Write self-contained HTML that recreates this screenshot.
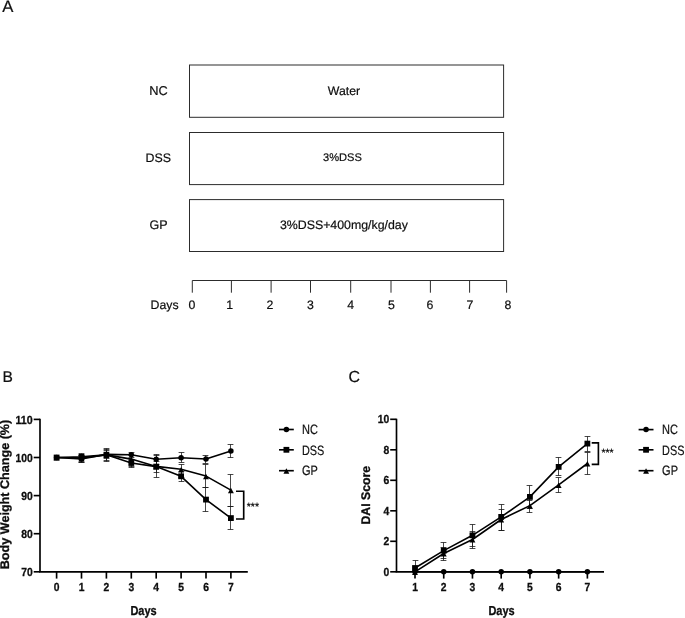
<!DOCTYPE html>
<html lang="en"><head><meta charset="utf-8"><title>Figure</title>
<style>
html,body{margin:0;padding:0;background:#fff;}
body{width:685px;height:618px;overflow:hidden;font-family:'Liberation Sans', sans-serif;}
svg{display:block;font-family:'Liberation Sans', sans-serif;}
</style></head><body>
<svg width="685" height="618" viewBox="0 0 685 618" text-rendering="geometricPrecision">
<rect width="685" height="618" fill="#fff"/>
<text x="2.2" y="12.0" font-size="16.7" font-weight="normal" text-anchor="start" fill="#111" stroke="#111" stroke-width="0.2" >A</text>
<rect x="189.5" y="65.0" width="314.1" height="52.3" fill="none" stroke="#2c2c2c" stroke-width="1"/>
<text x="158.4" y="95.0" font-size="12.8" font-weight="normal" text-anchor="middle" fill="#0d0d0d" stroke="#0d0d0d" stroke-width="0.2" >NC</text>
<text x="344.0" y="95.0" font-size="12.3" font-weight="normal" text-anchor="middle" fill="#0d0d0d" stroke="#0d0d0d" stroke-width="0.2" >Water</text>
<rect x="189.5" y="132.5" width="314.1" height="52.099999999999994" fill="none" stroke="#2c2c2c" stroke-width="1"/>
<text x="158.3" y="161.9" font-size="12.35" font-weight="normal" text-anchor="middle" fill="#0d0d0d" stroke="#0d0d0d" stroke-width="0.2" >DSS</text>
<text x="342.5" y="160.9" font-size="11.1" font-weight="normal" text-anchor="middle" fill="#0d0d0d" stroke="#0d0d0d" stroke-width="0.2" >3%DSS</text>
<rect x="189.5" y="199.6" width="314.1" height="51.900000000000006" fill="none" stroke="#2c2c2c" stroke-width="1"/>
<text x="158.5" y="228.9" font-size="12.5" font-weight="normal" text-anchor="middle" fill="#0d0d0d" stroke="#0d0d0d" stroke-width="0.2" >GP</text>
<text x="343.9" y="228.6" font-size="12.35" font-weight="normal" text-anchor="middle" fill="#0d0d0d" stroke="#0d0d0d" stroke-width="0.2" >3%DSS+400mg/kg/day</text>
<path d="M192.3 280.5H506.6" stroke="#2c2c2c" stroke-width="1" fill="none"/>
<path d="M192.3 280.5V292.7" stroke="#2c2c2c" stroke-width="1" fill="none"/>
<text x="192.0" y="309.1" font-size="12.3" font-weight="normal" text-anchor="middle" fill="#0d0d0d" stroke="#0d0d0d" stroke-width="0.2" >0</text>
<path d="M231.4 280.5V292.7" stroke="#2c2c2c" stroke-width="1" fill="none"/>
<text x="229.65" y="309.1" font-size="12.3" font-weight="normal" text-anchor="middle" fill="#0d0d0d" stroke="#0d0d0d" stroke-width="0.2" >1</text>
<path d="M271.1 280.5V292.7" stroke="#2c2c2c" stroke-width="1" fill="none"/>
<text x="269.9" y="309.1" font-size="12.3" font-weight="normal" text-anchor="middle" fill="#0d0d0d" stroke="#0d0d0d" stroke-width="0.2" >2</text>
<path d="M310.5 280.5V292.7" stroke="#2c2c2c" stroke-width="1" fill="none"/>
<text x="310.5" y="309.1" font-size="12.3" font-weight="normal" text-anchor="middle" fill="#0d0d0d" stroke="#0d0d0d" stroke-width="0.2" >3</text>
<path d="M350.7 280.5V292.7" stroke="#2c2c2c" stroke-width="1" fill="none"/>
<text x="350.55" y="309.1" font-size="12.3" font-weight="normal" text-anchor="middle" fill="#0d0d0d" stroke="#0d0d0d" stroke-width="0.2" >4</text>
<path d="M391.0 280.5V292.7" stroke="#2c2c2c" stroke-width="1" fill="none"/>
<text x="391.4" y="309.1" font-size="12.3" font-weight="normal" text-anchor="middle" fill="#0d0d0d" stroke="#0d0d0d" stroke-width="0.2" >5</text>
<path d="M430.4 280.5V292.7" stroke="#2c2c2c" stroke-width="1" fill="none"/>
<text x="429.95" y="309.1" font-size="12.3" font-weight="normal" text-anchor="middle" fill="#0d0d0d" stroke="#0d0d0d" stroke-width="0.2" >6</text>
<path d="M469.6 280.5V292.7" stroke="#2c2c2c" stroke-width="1" fill="none"/>
<text x="469.9" y="309.1" font-size="12.3" font-weight="normal" text-anchor="middle" fill="#0d0d0d" stroke="#0d0d0d" stroke-width="0.2" >7</text>
<path d="M506.6 280.5V292.7" stroke="#2c2c2c" stroke-width="1" fill="none"/>
<text x="507.8" y="309.1" font-size="12.3" font-weight="normal" text-anchor="middle" fill="#0d0d0d" stroke="#0d0d0d" stroke-width="0.2" >8</text>
<text x="150.6" y="309.1" font-size="12.3" font-weight="normal" text-anchor="start" fill="#0d0d0d" stroke="#0d0d0d" stroke-width="0.2" >Days</text>
<text x="2.5" y="382.2" font-size="15.6" font-weight="normal" text-anchor="start" fill="#111" stroke="#111" stroke-width="0.2" >B</text>
<path d="M40.0 418.7V571.8H247.8" stroke="#000" stroke-width="1.65" fill="none"/>
<path d="M33.7 419.40H40.0" stroke="#000" stroke-width="1.65"/>
<text x="32.7" y="423.5" font-size="11.7" font-weight="bold" text-anchor="end" fill="#0d0d0d" stroke="#0d0d0d" stroke-width="0.3" textLength="17.2" lengthAdjust="spacingAndGlyphs" >110</text>
<path d="M33.7 457.50H40.0" stroke="#000" stroke-width="1.65"/>
<text x="32.7" y="461.6" font-size="11.7" font-weight="bold" text-anchor="end" fill="#0d0d0d" stroke="#0d0d0d" stroke-width="0.3" textLength="17.2" lengthAdjust="spacingAndGlyphs" >100</text>
<path d="M33.7 495.60H40.0" stroke="#000" stroke-width="1.65"/>
<text x="32.7" y="499.70000000000005" font-size="11.7" font-weight="bold" text-anchor="end" fill="#0d0d0d" stroke="#0d0d0d" stroke-width="0.3" textLength="11.5" lengthAdjust="spacingAndGlyphs" >90</text>
<path d="M33.7 533.70H40.0" stroke="#000" stroke-width="1.65"/>
<text x="32.7" y="537.8000000000001" font-size="11.7" font-weight="bold" text-anchor="end" fill="#0d0d0d" stroke="#0d0d0d" stroke-width="0.3" textLength="11.5" lengthAdjust="spacingAndGlyphs" >80</text>
<path d="M33.7 571.80H40.0" stroke="#000" stroke-width="1.65"/>
<text x="32.7" y="575.9" font-size="11.7" font-weight="bold" text-anchor="end" fill="#0d0d0d" stroke="#0d0d0d" stroke-width="0.3" textLength="11.5" lengthAdjust="spacingAndGlyphs" >70</text>
<path d="M56.60 571.8V578.6" stroke="#000" stroke-width="1.65"/>
<text x="56.6" y="590.7" font-size="11.7" font-weight="bold" text-anchor="middle" fill="#0d0d0d" stroke="#0d0d0d" stroke-width="0.3" textLength="5.75" lengthAdjust="spacingAndGlyphs" >0</text>
<path d="M81.50 571.8V578.6" stroke="#000" stroke-width="1.65"/>
<text x="81.5" y="590.7" font-size="11.7" font-weight="bold" text-anchor="middle" fill="#0d0d0d" stroke="#0d0d0d" stroke-width="0.3" textLength="5.75" lengthAdjust="spacingAndGlyphs" >1</text>
<path d="M106.40 571.8V578.6" stroke="#000" stroke-width="1.65"/>
<text x="106.4" y="590.7" font-size="11.7" font-weight="bold" text-anchor="middle" fill="#0d0d0d" stroke="#0d0d0d" stroke-width="0.3" textLength="5.75" lengthAdjust="spacingAndGlyphs" >2</text>
<path d="M131.30 571.8V578.6" stroke="#000" stroke-width="1.65"/>
<text x="131.29999999999998" y="590.7" font-size="11.7" font-weight="bold" text-anchor="middle" fill="#0d0d0d" stroke="#0d0d0d" stroke-width="0.3" textLength="5.75" lengthAdjust="spacingAndGlyphs" >3</text>
<path d="M156.20 571.8V578.6" stroke="#000" stroke-width="1.65"/>
<text x="156.2" y="590.7" font-size="11.7" font-weight="bold" text-anchor="middle" fill="#0d0d0d" stroke="#0d0d0d" stroke-width="0.3" textLength="5.75" lengthAdjust="spacingAndGlyphs" >4</text>
<path d="M181.10 571.8V578.6" stroke="#000" stroke-width="1.65"/>
<text x="181.1" y="590.7" font-size="11.7" font-weight="bold" text-anchor="middle" fill="#0d0d0d" stroke="#0d0d0d" stroke-width="0.3" textLength="5.75" lengthAdjust="spacingAndGlyphs" >5</text>
<path d="M206.00 571.8V578.6" stroke="#000" stroke-width="1.65"/>
<text x="205.99999999999997" y="590.7" font-size="11.7" font-weight="bold" text-anchor="middle" fill="#0d0d0d" stroke="#0d0d0d" stroke-width="0.3" textLength="5.75" lengthAdjust="spacingAndGlyphs" >6</text>
<path d="M230.90 571.8V578.6" stroke="#000" stroke-width="1.65"/>
<text x="230.89999999999998" y="590.7" font-size="11.7" font-weight="bold" text-anchor="middle" fill="#0d0d0d" stroke="#0d0d0d" stroke-width="0.3" textLength="5.75" lengthAdjust="spacingAndGlyphs" >7</text>
<text x="143.5" y="614.5" font-size="13.0" font-weight="bold" text-anchor="middle" fill="#0d0d0d" stroke="#0d0d0d" stroke-width="0.3" textLength="26.2" lengthAdjust="spacingAndGlyphs" >Days</text>
<text x="9.0" y="494.5" font-size="12.5" font-weight="bold" text-anchor="middle" fill="#0d0d0d" stroke="#0d0d0d" stroke-width="0.3" textLength="149.5" lengthAdjust="spacingAndGlyphs" transform="rotate(-90 9.0 494.5)" >Body Weight Change (%)</text>
<path d="M81.5 455.5V462.5M78.60 455.5H84.40M78.60 462.5H84.40" stroke="#141414" stroke-width="0.78" fill="none"/>
<path d="M106.5 449.5V460.5M103.60 449.5H109.40M103.60 460.5H109.40" stroke="#141414" stroke-width="0.78" fill="none"/>
<path d="M131.5 452.5V457.5M128.60 452.5H134.40M128.60 457.5H134.40" stroke="#141414" stroke-width="0.78" fill="none"/>
<path d="M156.5 454.5V464.5M153.60 454.5H159.40M153.60 464.5H159.40" stroke="#141414" stroke-width="0.78" fill="none"/>
<path d="M181.5 452.5V462.5M178.60 452.5H184.40M178.60 462.5H184.40" stroke="#141414" stroke-width="0.78" fill="none"/>
<path d="M205.5 455.5V463.5M202.60 455.5H208.40M202.60 463.5H208.40" stroke="#141414" stroke-width="0.78" fill="none"/>
<path d="M230.5 444.5V457.5M227.60 444.5H233.40M227.60 457.5H233.40" stroke="#141414" stroke-width="0.78" fill="none"/>
<path d="M81.5 453.5V461.5M78.60 453.5H84.40M78.60 461.5H84.40" stroke="#141414" stroke-width="0.78" fill="none"/>
<path d="M106.5 448.5V461.5M103.60 448.5H109.40M103.60 461.5H109.40" stroke="#141414" stroke-width="0.78" fill="none"/>
<path d="M131.5 459.5V467.5M128.60 459.5H134.40M128.60 467.5H134.40" stroke="#141414" stroke-width="0.78" fill="none"/>
<path d="M156.5 455.5V477.5M153.60 455.5H159.40M153.60 477.5H159.40" stroke="#141414" stroke-width="0.78" fill="none"/>
<path d="M181.5 471.5V481.5M178.60 471.5H184.40M178.60 481.5H184.40" stroke="#141414" stroke-width="0.78" fill="none"/>
<path d="M205.5 487.5V511.5M202.60 487.5H208.40M202.60 511.5H208.40" stroke="#141414" stroke-width="0.78" fill="none"/>
<path d="M230.5 506.5V529.5M227.60 506.5H233.40M227.60 529.5H233.40" stroke="#141414" stroke-width="0.78" fill="none"/>
<path d="M81.5 455.5V462.5M78.60 455.5H84.40M78.60 462.5H84.40" stroke="#141414" stroke-width="0.78" fill="none"/>
<path d="M106.5 450.5V458.5M103.60 450.5H109.40M103.60 458.5H109.40" stroke="#141414" stroke-width="0.78" fill="none"/>
<path d="M131.5 455.5V466.5M128.60 455.5H134.40M128.60 466.5H134.40" stroke="#141414" stroke-width="0.78" fill="none"/>
<path d="M156.5 461.5V472.5M153.60 461.5H159.40M153.60 472.5H159.40" stroke="#141414" stroke-width="0.78" fill="none"/>
<path d="M181.5 464.5V477.5M178.60 464.5H184.40M178.60 477.5H184.40" stroke="#141414" stroke-width="0.78" fill="none"/>
<path d="M205.5 464.5V487.5M202.60 464.5H208.40M202.60 487.5H208.40" stroke="#141414" stroke-width="0.78" fill="none"/>
<path d="M230.5 474.5V506.5M227.60 474.5H233.40M227.60 506.5H233.40" stroke="#141414" stroke-width="0.78" fill="none"/>
<polyline points="56.60,457.50 81.50,459.00 106.40,454.40 131.30,454.80 156.20,459.20 181.10,457.70 206.00,459.00 230.90,450.90" fill="none" stroke="#000" stroke-width="1.6" stroke-linejoin="round"/>
<circle cx="56.60" cy="457.50" r="2.75" fill="#000"/>
<circle cx="81.50" cy="459.00" r="2.75" fill="#000"/>
<circle cx="106.40" cy="454.40" r="2.75" fill="#000"/>
<circle cx="131.30" cy="454.80" r="2.75" fill="#000"/>
<circle cx="156.20" cy="459.20" r="2.75" fill="#000"/>
<circle cx="181.10" cy="457.70" r="2.75" fill="#000"/>
<circle cx="206.00" cy="459.00" r="2.75" fill="#000"/>
<circle cx="230.90" cy="450.90" r="2.75" fill="#000"/>
<polyline points="56.60,457.50 81.50,456.90 106.40,454.70 131.30,463.00 156.20,466.60 181.10,476.30 206.00,499.60 230.90,518.10" fill="none" stroke="#000" stroke-width="1.6" stroke-linejoin="round"/>
<rect x="53.70" y="454.60" width="5.8" height="5.8" fill="#000"/>
<rect x="78.60" y="454.00" width="5.8" height="5.8" fill="#000"/>
<rect x="103.50" y="451.80" width="5.8" height="5.8" fill="#000"/>
<rect x="128.40" y="460.10" width="5.8" height="5.8" fill="#000"/>
<rect x="153.30" y="463.70" width="5.8" height="5.8" fill="#000"/>
<rect x="178.20" y="473.40" width="5.8" height="5.8" fill="#000"/>
<rect x="203.10" y="496.70" width="5.8" height="5.8" fill="#000"/>
<rect x="228.00" y="515.20" width="5.8" height="5.8" fill="#000"/>
<polyline points="56.60,457.50 81.50,458.00 106.40,454.90 131.30,459.10 156.20,466.40 181.10,469.30 206.00,476.10 230.90,490.10" fill="none" stroke="#000" stroke-width="1.6" stroke-linejoin="round"/>
<path d="M56.60 455.10L59.55 460.60H53.65Z" fill="#000"/>
<path d="M81.50 455.60L84.45 461.10H78.55Z" fill="#000"/>
<path d="M106.40 452.50L109.35 458.00H103.45Z" fill="#000"/>
<path d="M131.30 456.70L134.25 462.20H128.35Z" fill="#000"/>
<path d="M156.20 464.00L159.15 469.50H153.25Z" fill="#000"/>
<path d="M181.10 466.90L184.05 472.40H178.15Z" fill="#000"/>
<path d="M206.00 473.70L208.95 479.20H203.05Z" fill="#000"/>
<path d="M230.90 487.70L233.85 493.20H227.95Z" fill="#000"/>
<path d="M236 491.2H243.7V519H236" stroke="#000" stroke-width="1.65" fill="none"/>
<text x="246.8" y="510.3" font-size="10.4" font-weight="normal" text-anchor="start" fill="#000" stroke="#000" stroke-width="0.2" >***</text>
<path d="M279 429.5H293.8" stroke="#000" stroke-width="1.65"/>
<circle cx="286.40" cy="429.50" r="2.75" fill="#000"/>
<text x="302.0" y="434.2" font-size="13.5" font-weight="normal" text-anchor="start" fill="#111" stroke="#111" stroke-width="0.2" textLength="15.9" lengthAdjust="spacingAndGlyphs" >NC</text>
<path d="M279 449.8H293.8" stroke="#000" stroke-width="1.65"/>
<rect x="283.50" y="446.90" width="5.8" height="5.8" fill="#000"/>
<text x="302.0" y="454.5" font-size="13.5" font-weight="normal" text-anchor="start" fill="#111" stroke="#111" stroke-width="0.2" textLength="22.3" lengthAdjust="spacingAndGlyphs" >DSS</text>
<path d="M279 470.7H293.8" stroke="#000" stroke-width="1.65"/>
<path d="M286.40 468.30L289.35 473.80H283.45Z" fill="#000"/>
<text x="302.0" y="475.4" font-size="13.5" font-weight="normal" text-anchor="start" fill="#111" stroke="#111" stroke-width="0.2" textLength="15.9" lengthAdjust="spacingAndGlyphs" >GP</text>
<text x="348.5" y="382.4" font-size="16" font-weight="normal" text-anchor="start" fill="#111" stroke="#111" stroke-width="0.2" >C</text>
<path d="M396.5 418.7V571.8H604" stroke="#000" stroke-width="1.65" fill="none"/>
<path d="M390.2 419.30H396.5" stroke="#000" stroke-width="1.65"/>
<text x="389.2" y="423.4" font-size="11.7" font-weight="bold" text-anchor="end" fill="#0d0d0d" stroke="#0d0d0d" stroke-width="0.3" textLength="11.5" lengthAdjust="spacingAndGlyphs" >10</text>
<path d="M390.2 449.80H396.5" stroke="#000" stroke-width="1.65"/>
<text x="389.2" y="453.9" font-size="11.7" font-weight="bold" text-anchor="end" fill="#0d0d0d" stroke="#0d0d0d" stroke-width="0.3" textLength="5.75" lengthAdjust="spacingAndGlyphs" >8</text>
<path d="M390.2 480.30H396.5" stroke="#000" stroke-width="1.65"/>
<text x="389.2" y="484.4" font-size="11.7" font-weight="bold" text-anchor="end" fill="#0d0d0d" stroke="#0d0d0d" stroke-width="0.3" textLength="5.75" lengthAdjust="spacingAndGlyphs" >6</text>
<path d="M390.2 510.80H396.5" stroke="#000" stroke-width="1.65"/>
<text x="389.2" y="514.9" font-size="11.7" font-weight="bold" text-anchor="end" fill="#0d0d0d" stroke="#0d0d0d" stroke-width="0.3" textLength="5.75" lengthAdjust="spacingAndGlyphs" >4</text>
<path d="M390.2 541.30H396.5" stroke="#000" stroke-width="1.65"/>
<text x="389.2" y="545.4" font-size="11.7" font-weight="bold" text-anchor="end" fill="#0d0d0d" stroke="#0d0d0d" stroke-width="0.3" textLength="5.75" lengthAdjust="spacingAndGlyphs" >2</text>
<path d="M390.2 571.80H396.5" stroke="#000" stroke-width="1.65"/>
<text x="389.2" y="575.9" font-size="11.7" font-weight="bold" text-anchor="end" fill="#0d0d0d" stroke="#0d0d0d" stroke-width="0.3" textLength="5.75" lengthAdjust="spacingAndGlyphs" >0</text>
<path d="M415.00 571.8V578.6" stroke="#000" stroke-width="1.65"/>
<text x="415.0" y="590.7" font-size="11.7" font-weight="bold" text-anchor="middle" fill="#0d0d0d" stroke="#0d0d0d" stroke-width="0.3" textLength="5.75" lengthAdjust="spacingAndGlyphs" >1</text>
<path d="M443.73 571.8V578.6" stroke="#000" stroke-width="1.65"/>
<text x="443.73" y="590.7" font-size="11.7" font-weight="bold" text-anchor="middle" fill="#0d0d0d" stroke="#0d0d0d" stroke-width="0.3" textLength="5.75" lengthAdjust="spacingAndGlyphs" >2</text>
<path d="M472.46 571.8V578.6" stroke="#000" stroke-width="1.65"/>
<text x="472.46" y="590.7" font-size="11.7" font-weight="bold" text-anchor="middle" fill="#0d0d0d" stroke="#0d0d0d" stroke-width="0.3" textLength="5.75" lengthAdjust="spacingAndGlyphs" >3</text>
<path d="M501.19 571.8V578.6" stroke="#000" stroke-width="1.65"/>
<text x="501.19" y="590.7" font-size="11.7" font-weight="bold" text-anchor="middle" fill="#0d0d0d" stroke="#0d0d0d" stroke-width="0.3" textLength="5.75" lengthAdjust="spacingAndGlyphs" >4</text>
<path d="M529.92 571.8V578.6" stroke="#000" stroke-width="1.65"/>
<text x="529.92" y="590.7" font-size="11.7" font-weight="bold" text-anchor="middle" fill="#0d0d0d" stroke="#0d0d0d" stroke-width="0.3" textLength="5.75" lengthAdjust="spacingAndGlyphs" >5</text>
<path d="M558.65 571.8V578.6" stroke="#000" stroke-width="1.65"/>
<text x="558.65" y="590.7" font-size="11.7" font-weight="bold" text-anchor="middle" fill="#0d0d0d" stroke="#0d0d0d" stroke-width="0.3" textLength="5.75" lengthAdjust="spacingAndGlyphs" >6</text>
<path d="M587.38 571.8V578.6" stroke="#000" stroke-width="1.65"/>
<text x="587.38" y="590.7" font-size="11.7" font-weight="bold" text-anchor="middle" fill="#0d0d0d" stroke="#0d0d0d" stroke-width="0.3" textLength="5.75" lengthAdjust="spacingAndGlyphs" >7</text>
<text x="501.5" y="614.5" font-size="13.0" font-weight="bold" text-anchor="middle" fill="#0d0d0d" stroke="#0d0d0d" stroke-width="0.3" textLength="26.2" lengthAdjust="spacingAndGlyphs" >Days</text>
<text x="370.3" y="495.2" font-size="12.5" font-weight="bold" text-anchor="middle" fill="#0d0d0d" stroke="#0d0d0d" stroke-width="0.3" textLength="58.7" lengthAdjust="spacingAndGlyphs" transform="rotate(-90 370.3 495.2)" >DAI Score</text>
<path d="M415.5 560.5V571.8M412.60 560.5H418.40" stroke="#141414" stroke-width="0.78" fill="none"/>
<path d="M443.5 542.5V558.5M440.60 542.5H446.40M440.60 558.5H446.40" stroke="#141414" stroke-width="0.78" fill="none"/>
<path d="M472.5 524.5V546.5M469.60 524.5H475.40M469.60 546.5H475.40" stroke="#141414" stroke-width="0.78" fill="none"/>
<path d="M501.5 504.5V530.5M498.60 504.5H504.40M498.60 530.5H504.40" stroke="#141414" stroke-width="0.78" fill="none"/>
<path d="M529.5 485.5V508.5M526.60 485.5H532.40M526.60 508.5H532.40" stroke="#141414" stroke-width="0.78" fill="none"/>
<path d="M558.5 457.5V475.5M555.60 457.5H561.40M555.60 475.5H561.40" stroke="#141414" stroke-width="0.78" fill="none"/>
<path d="M587.5 436.5V451.5M584.60 436.5H590.40M584.60 451.5H590.40" stroke="#141414" stroke-width="0.78" fill="none"/>
<path d="M443.5 547.5V560.5M440.60 547.5H446.40M440.60 560.5H446.40" stroke="#141414" stroke-width="0.78" fill="none"/>
<path d="M472.5 531.5V548.5M469.60 531.5H475.40M469.60 548.5H475.40" stroke="#141414" stroke-width="0.78" fill="none"/>
<path d="M501.5 509.5V530.5M498.60 509.5H504.40M498.60 530.5H504.40" stroke="#141414" stroke-width="0.78" fill="none"/>
<path d="M529.5 500.5V512.5M526.60 500.5H532.40M526.60 512.5H532.40" stroke="#141414" stroke-width="0.78" fill="none"/>
<path d="M558.5 477.5V492.5M555.60 477.5H561.40M555.60 492.5H561.40" stroke="#141414" stroke-width="0.78" fill="none"/>
<path d="M587.5 452.5V474.5M584.60 452.5H590.40M584.60 474.5H590.40" stroke="#141414" stroke-width="0.78" fill="none"/>
<polyline points="415.00,571.80 443.73,571.80 472.46,571.80 501.19,571.80 529.92,571.80 558.65,571.80 587.38,571.80" fill="none" stroke="#000" stroke-width="1.6" stroke-linejoin="round"/>
<circle cx="415.00" cy="571.80" r="2.75" fill="#000"/>
<circle cx="443.73" cy="571.80" r="2.75" fill="#000"/>
<circle cx="472.46" cy="571.80" r="2.75" fill="#000"/>
<circle cx="501.19" cy="571.80" r="2.75" fill="#000"/>
<circle cx="529.92" cy="571.80" r="2.75" fill="#000"/>
<circle cx="558.65" cy="571.80" r="2.75" fill="#000"/>
<circle cx="587.38" cy="571.80" r="2.75" fill="#000"/>
<polyline points="415.00,568.00 443.73,550.60 472.46,535.30 501.19,516.90 529.92,496.90 558.65,466.90 587.38,443.60" fill="none" stroke="#000" stroke-width="1.6" stroke-linejoin="round"/>
<rect x="412.10" y="565.10" width="5.8" height="5.8" fill="#000"/>
<rect x="440.83" y="547.70" width="5.8" height="5.8" fill="#000"/>
<rect x="469.56" y="532.40" width="5.8" height="5.8" fill="#000"/>
<rect x="498.29" y="514.00" width="5.8" height="5.8" fill="#000"/>
<rect x="527.02" y="494.00" width="5.8" height="5.8" fill="#000"/>
<rect x="555.75" y="464.00" width="5.8" height="5.8" fill="#000"/>
<rect x="584.48" y="440.70" width="5.8" height="5.8" fill="#000"/>
<polyline points="415.00,571.80 443.73,553.50 472.46,539.50 501.19,519.50 529.92,505.60 558.65,484.80 587.38,463.50" fill="none" stroke="#000" stroke-width="1.6" stroke-linejoin="round"/>
<path d="M415.00 569.40L417.95 574.90H412.05Z" fill="#000"/>
<path d="M443.73 551.10L446.68 556.60H440.78Z" fill="#000"/>
<path d="M472.46 537.10L475.41 542.60H469.51Z" fill="#000"/>
<path d="M501.19 517.10L504.14 522.60H498.24Z" fill="#000"/>
<path d="M529.92 503.20L532.87 508.70H526.97Z" fill="#000"/>
<path d="M558.65 482.40L561.60 487.90H555.70Z" fill="#000"/>
<path d="M587.38 461.10L590.33 466.60H584.43Z" fill="#000"/>
<path d="M591.7 442.9H598.4V464.3H591.7" stroke="#000" stroke-width="1.65" fill="none"/>
<text x="601.4" y="456.2" font-size="10.4" font-weight="normal" text-anchor="start" fill="#000" stroke="#000" stroke-width="0.2" >***</text>
<path d="M638.6 429.6H653.5" stroke="#000" stroke-width="1.65"/>
<circle cx="646.05" cy="429.60" r="2.75" fill="#000"/>
<text x="662.1" y="434.3" font-size="13.5" font-weight="normal" text-anchor="start" fill="#111" stroke="#111" stroke-width="0.2" textLength="15.9" lengthAdjust="spacingAndGlyphs" >NC</text>
<path d="M638.6 449.8H653.5" stroke="#000" stroke-width="1.65"/>
<rect x="643.15" y="446.90" width="5.8" height="5.8" fill="#000"/>
<text x="662.1" y="454.5" font-size="13.5" font-weight="normal" text-anchor="start" fill="#111" stroke="#111" stroke-width="0.2" textLength="22.3" lengthAdjust="spacingAndGlyphs" >DSS</text>
<path d="M638.6 470.7H653.5" stroke="#000" stroke-width="1.65"/>
<path d="M646.05 468.30L649.00 473.80H643.10Z" fill="#000"/>
<text x="662.1" y="475.4" font-size="13.5" font-weight="normal" text-anchor="start" fill="#111" stroke="#111" stroke-width="0.2" textLength="15.9" lengthAdjust="spacingAndGlyphs" >GP</text>
</svg>
</body></html>
